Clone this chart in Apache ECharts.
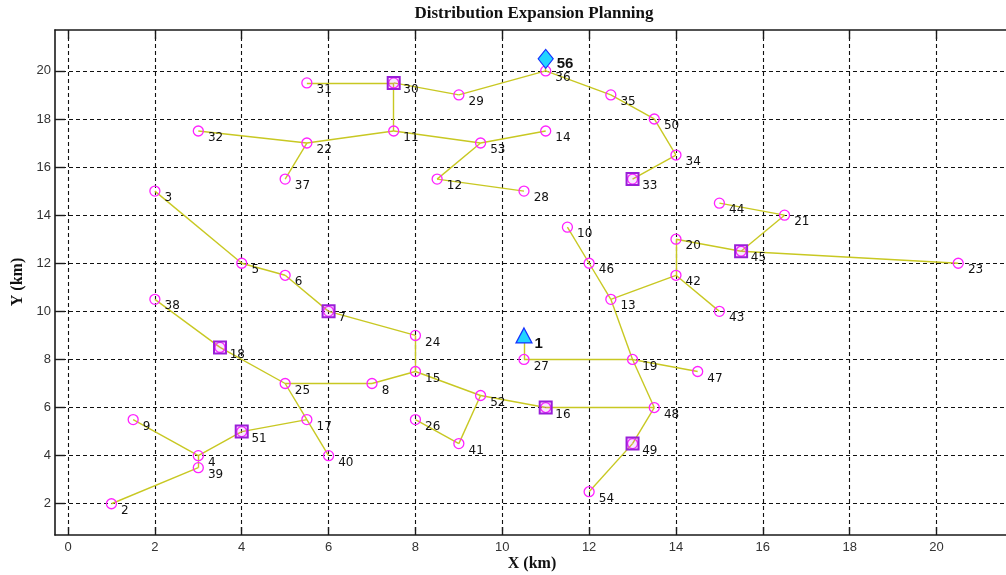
<!DOCTYPE html>
<html>
<head>
<meta charset="utf-8">
<title>Distribution Expansion Planning</title>
<script src="https://cdn.jsdelivr.net/npm/echarts@6/dist/echarts.min.js"></script>
<style>
  html, body { margin: 0; padding: 0; background: #ffffff; }
  #chart { width: 1006px; height: 575px; }
</style>
</head>
<body>
<div id="chart"></div>
<script>
// Load points (km) of the network
const nodeIds = [1, 2, 3, 4, 5, 6, 7, 8, 9, 10, 11, 12, 13, 14, 15, 16, 17, 18, 19, 20,
                 21, 22, 23, 24, 25, 26, 27, 28, 29, 30, 31, 32, 33, 34, 35, 36, 37, 38, 39, 40,
                 41, 42, 43, 44, 45, 46, 47, 48, 49, 50, 51, 52, 53, 54, 56];
const nodeX = [10.5, 1, 2, 3, 4, 5, 6, 7, 1.5, 11.5, 7.5, 8.5, 12.5, 11, 8, 11, 5.5, 3.5, 13, 14,
               16.5, 5.5, 20.5, 8, 5, 8, 10.5, 10.5, 9, 7.5, 5.5, 3, 13, 14, 12.5, 11, 5, 2, 3, 6,
               9, 14, 15, 15, 15.5, 12, 14.5, 13.5, 13, 13.5, 4, 9.5, 9.5, 12, 11];
const nodeY = [9, 2, 15, 4, 12, 11.5, 10, 7, 5.5, 13.5, 17.5, 15.5, 10.5, 17.5, 7.5, 6, 5.5, 8.5, 8, 13,
               14, 17, 12, 9, 7, 5.5, 8, 15, 19, 19.5, 19.5, 17.5, 15.5, 16.5, 19, 20, 15.5, 10.5, 3.5, 4,
               4.5, 11.5, 10, 14.5, 12.5, 12, 7.5, 6, 4.5, 18, 5, 6.5, 17, 2.5, 20.5];

// Feeder branches (from node, to node)
const edgeFrom = [39, 4, 4, 4, 51, 17, 17, 25, 18, 25, 8, 15, 24, 7, 6, 5, 15, 52, 41, 52,
                  16, 48, 48, 49, 19, 27, 19, 19, 13, 46, 13, 42, 42, 20, 45, 21, 45,
                  56, 36, 29, 30, 30, 11, 22, 22, 11, 53, 53, 12, 36, 35, 50, 34];
const edgeTo   = [2, 39, 9, 51, 17, 40, 25, 18, 38, 8, 15, 24, 7, 6, 5, 3, 52, 41, 26, 16,
                  48, 19, 49, 54, 27, 1, 47, 13, 46, 10, 42, 20, 43, 45, 21, 44, 23,
                  36, 29, 30, 31, 11, 22, 32, 37, 53, 14, 12, 28, 35, 50, 34, 33];

// Node roles
const squareIds = [7, 16, 18, 30, 33, 45, 49, 51];
const triangleIds = [1];
const diamondIds = [56];

// Axis ticks
const xTicks = [0, 2, 4, 6, 8, 10, 12, 14, 16, 18, 20];
const yTicks = [2, 4, 6, 8, 10, 12, 14, 16, 18, 20];

const pos = {};
nodeIds.forEach((id, i) => { pos[id] = [nodeX[i], nodeY[i]]; });
const pointsFor = ids => ids.map(id => [pos[id][0], pos[id][1], id]);

const circleIds = nodeIds.filter(id => triangleIds.indexOf(id) < 0 && diamondIds.indexOf(id) < 0);
const edgeData = edgeFrom.map((a, i) => ({ coords: [pos[a], pos[edgeTo[i]]] }));

const labelFont = 'DejaVu Sans';

const gridLine = { show: true, lineStyle: { color: '#111', width: 1.1, type: [4, 3] } };
const axisLineStyle = { show: true, onZero: false, lineStyle: { color: '#1a1a1a', width: 1.6 } };
const tickStyle = { color: '#1a1a1a', width: 1.4 };

const chart = echarts.init(document.getElementById('chart'), null, { renderer: 'canvas' });

chart.setOption({
  animation: false,
  backgroundColor: '#ffffff',
  grid: { left: 55, right: 0, top: 30, bottom: 40, containLabel: false },
  xAxis: [
    {
      type: 'value', min: -0.3, max: 21.6, position: 'bottom',
      axisLine: axisLineStyle,
      axisTick: { show: true, inside: true, length: 8, customValues: xTicks, lineStyle: tickStyle },
      axisLabel: { show: true, customValues: xTicks, margin: 6, color: '#333',
                   fontFamily: 'Liberation Sans', fontSize: 13 },
      splitLine: gridLine
    },
    {
      type: 'value', min: -0.3, max: 21.6, position: 'top',
      axisLine: axisLineStyle,
      axisTick: { show: true, inside: true, length: 9, customValues: xTicks, lineStyle: tickStyle },
      axisLabel: { show: false },
      splitLine: { show: false }
    }
  ],
  yAxis: {
    type: 'value', min: 0.7, max: 21.7, position: 'left',
    axisLine: axisLineStyle,
    axisTick: { show: true, inside: true, length: 10, customValues: yTicks, lineStyle: tickStyle },
    axisLabel: { show: true, customValues: yTicks, margin: 4, color: '#333',
                 fontFamily: 'Liberation Sans', fontSize: 13 },
    splitLine: gridLine
  },
  graphic: [
    { type: 'text', x: 534, y: 14, silent: true,
      style: { text: 'Distribution Expansion Planning', align: 'center', verticalAlign: 'middle',
               font: 'bold 17px "Liberation Serif"', fill: '#111' } },
    { type: 'text', x: 532, y: 564, silent: true,
      style: { text: 'X (km)', align: 'center', verticalAlign: 'middle',
               font: 'bold 16px "Liberation Serif"', fill: '#111' } },
    { type: 'text', x: 18, y: 282, rotation: Math.PI / 2, silent: true,
      style: { text: 'Y (km)', align: 'center', verticalAlign: 'middle',
               font: 'bold 16px "Liberation Serif"', fill: '#111' } }
  ],
  series: [
    {
      name: 'branches', type: 'lines', coordinateSystem: 'cartesian2d',
      data: edgeData, silent: true, z: 2,
      lineStyle: { color: '#c8c822', width: 1.4, opacity: 1 }
    },
    {
      name: 'loads', type: 'scatter', data: pointsFor(circleIds), z: 3, silent: true,
      symbol: 'circle', symbolSize: 10,
      itemStyle: { color: 'rgba(255,255,255,0)', borderColor: '#ff22ff', borderWidth: 1.3, opacity: 1 },
      label: { show: true, position: 'right', distance: 4, offset: [0, 7],
               formatter: p => String(p.value[2]), color: '#111',
               fontFamily: labelFont, fontSize: 12 }
    },
    {
      name: 'switching', type: 'scatter', data: pointsFor(squareIds), z: 4, silent: true,
      symbol: 'rect', symbolSize: 12,
      itemStyle: { color: 'rgba(200,60,255,0.12)', borderColor: '#9a1ed8', borderWidth: 2, opacity: 1 }
    },
    {
      name: 'substation A', type: 'scatter', data: pointsFor(triangleIds), z: 5, silent: true,
      symbol: 'triangle', symbolSize: [16, 15],
      itemStyle: { color: '#22d4ff', borderColor: '#1530ff', borderWidth: 1.2, opacity: 1 },
      label: { show: true, position: 'right', distance: 2, offset: [0, 8],
               formatter: p => String(p.value[2]), color: '#111',
               fontFamily: 'Liberation Sans', fontWeight: 'bold', fontSize: 15 }
    },
    {
      name: 'substation B', type: 'scatter', data: pointsFor(diamondIds), z: 5, silent: true,
      symbol: 'diamond', symbolSize: [15, 19],
      itemStyle: { color: '#22d4ff', borderColor: '#1530ff', borderWidth: 1.2, opacity: 1 },
      label: { show: true, position: 'right', distance: 3, offset: [0, 5],
               formatter: p => String(p.value[2]), color: '#111',
               fontFamily: 'Liberation Sans', fontWeight: 'bold', fontSize: 15 }
    }
  ]
});
</script>
</body>
</html>
